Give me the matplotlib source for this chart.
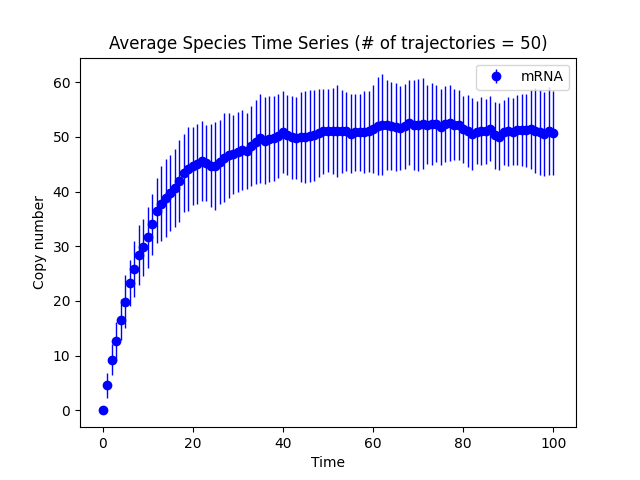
import numpy as np
import matplotlib
matplotlib.use("Agg")
import matplotlib.pyplot as plt

time = list(range(101))

mean_mrna = [
    0.0, 4.6, 9.3, 12.6, 16.6, 19.9, 23.2, 25.9, 28.4, 29.8,
    31.6, 34.0, 36.5, 37.8, 38.8, 39.7, 40.7, 42.0, 43.4, 44.1,
    44.6, 45.1, 45.5, 45.2, 44.7, 44.7, 45.4, 46.2, 46.6, 46.8,
    47.2, 47.6, 47.4, 48.3, 49.1, 49.7, 49.3, 49.6, 49.7, 50.2,
    50.9, 50.3, 49.9, 49.7, 49.9, 50.0, 50.1, 50.3, 50.7, 51.0,
    51.1, 51.1, 51.0, 51.0, 51.0, 50.6, 50.8, 50.8, 50.8, 51.0,
    51.4, 52.0, 52.2, 52.1, 52.0, 51.8, 51.6, 51.9, 52.6, 52.1,
    52.1, 52.4, 52.2, 52.3, 52.4, 51.8, 52.3, 52.5, 52.2, 52.1,
    51.4, 51.0, 50.5, 50.8, 51.0, 51.0, 51.5, 50.3, 50.0, 50.8,
    51.0, 50.9, 51.3, 51.3, 51.2, 51.4, 51.1, 50.8, 50.5, 51.1,
    50.7,
]

std_mrna = [
    0.0, 2.3, 2.9, 3.6, 3.8, 4.9, 4.2, 5.1, 5.4, 5.2,
    5.6, 5.6, 6.0, 6.9, 7.1, 6.9, 7.1, 7.5, 7.2, 7.6,
    7.1, 7.3, 7.3, 6.9, 7.6, 8.0, 7.6, 8.2, 7.8, 7.2,
    7.3, 7.3, 6.9, 7.3, 7.7, 8.2, 8.0, 7.8, 7.7, 7.7,
    7.5, 7.3, 7.6, 7.5, 8.2, 8.4, 8.4, 8.3, 8.1, 7.8,
    7.6, 7.9, 8.4, 7.6, 7.2, 7.2, 7.1, 7.0, 7.5, 7.4,
    8.1, 9.0, 9.2, 8.2, 8.0, 8.0, 7.6, 7.8, 7.8, 8.2,
    8.4, 8.3, 7.2, 7.5, 7.0, 6.9, 6.9, 6.9, 6.5, 6.4,
    6.1, 6.6, 6.6, 5.8, 6.2, 5.9, 6.0, 6.1, 6.1, 6.0,
    6.3, 6.1, 6.4, 6.6, 6.7, 7.2, 7.8, 7.7, 7.7, 8.0,
    7.6,
]

series_label = "mRNA"
title = "Average Species Time Series (# of trajectories = 50)"

fig, ax = plt.subplots(figsize=(6.4, 4.8), dpi=100)
ax.errorbar(time, mean_mrna, yerr=std_mrna, fmt='o', color='blue',
            ecolor='blue', elinewidth=1, label=series_label)
ax.set_title(title)
ax.set_xlabel("Time")
ax.set_ylabel("Copy number")
ax.legend(loc='upper right')
fig.savefig("out.png", dpi=100)
